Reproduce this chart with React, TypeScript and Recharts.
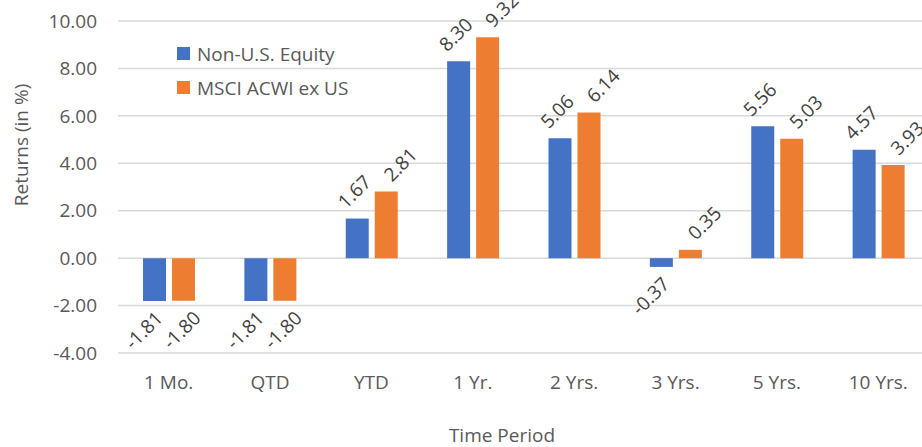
import { BarChart, Bar, XAxis, YAxis, CartesianGrid, LabelList, Customized } from 'recharts';

const periods = ['1 Mo.', 'QTD', 'YTD', '1 Yr.', '2 Yrs.', '3 Yrs.', '5 Yrs.', '10 Yrs.'];
const fundReturns = [-1.81, -1.81, 1.67, 8.30, 5.06, -0.37, 5.56, 4.57];
const indexReturns = [-1.80, -1.80, 2.81, 9.32, 6.14, 0.35, 5.03, 3.93];
const yTicks = [-4, -2, 0, 2, 4, 6, 8, 10];
const seriesNames = ['Non-U.S. Equity', 'MSCI ACWI ex US'];
const seriesColors = ['#4472C4', '#ED7D31'];

const data = periods.map((p, i) => ({ period: p, fund: fundReturns[i], index: indexReturns[i] }));

const FONT = '"Open Sans", sans-serif';

// rotated value labels; shift per series so neighbouring labels don't collide
const makeLabel = (shiftUp: number, shiftDown: number) => (props: any) => {
    const { x, y, width, height, value } = props;
    const cx = x + width / 2;
    const top = Math.min(y, y + height);
    const bottom = Math.max(y, y + height);
    const tx = value >= 0 ? cx + shiftUp : cx + shiftDown;
    const ty = value >= 0 ? top - 27 : bottom + 29;
    return (
        <text x={tx} y={ty} textAnchor="middle" dominantBaseline="central" fill="#404040"
            fontSize={19} fontFamily={FONT} transform={`rotate(-45, ${tx}, ${ty})`}>
            {Number(value).toFixed(2)}
        </text>
    );
};

// legend and axis titles drawn in svg so they don't shift the plot area
const Extras = () => (
    <g fontFamily={FONT} fill="#595959" fontSize={19}>
        {seriesNames.map((n, i) => (
            <g key={n}>
                <rect x={177} y={47 + i * 34} width={13} height={13} fill={seriesColors[i]} />
                <text x={197} y={53.5 + i * 34} dominantBaseline="central">{n}</text>
            </g>
        ))}
        <text x={21} y={145} textAnchor="middle" dominantBaseline="central" transform="rotate(-90, 21, 145)">Returns (in %)</text>
        <text x={502} y={435} textAnchor="middle" dominantBaseline="central">Time Period</text>
    </g>
);

export default function App() {
    return (
        <div style={{ position: 'absolute', left: 0, top: 0, width: 922, height: 447, background: '#fff' }}>
            <BarChart width={922} height={447} data={data} barSize={23} barGap={6}
                margin={{ top: 21, right: -7, left: 0, bottom: 0 }}>
                <CartesianGrid vertical={false} stroke="#d9d9d9" strokeWidth={1.5} />
                <XAxis dataKey="period" height={94} axisLine={false} tickLine={false} tickSize={0} tickMargin={23}
                    tick={{ fill: '#595959', fontSize: 19, fontFamily: FONT }} interval={0} />
                <YAxis width={118} domain={[-4, 10]} ticks={yTicks} axisLine={false} tickLine={false} tickSize={0} tickMargin={21}
                    tickFormatter={(v: number) => v.toFixed(2)} tick={{ fill: '#595959', fontSize: 19, fontFamily: FONT }} />
                <Bar dataKey="fund" name={seriesNames[0]} fill={seriesColors[0]} isAnimationActive={false}>
                    <LabelList dataKey="fund" content={makeLabel(-3, -11)} />
                </Bar>
                <Bar dataKey="index" name={seriesNames[1]} fill={seriesColors[1]} isAnimationActive={false}>
                    <LabelList dataKey="index" content={makeLabel(14, -2)} />
                </Bar>
                <Customized component={Extras} />
            </BarChart>
        </div>
    );
}
